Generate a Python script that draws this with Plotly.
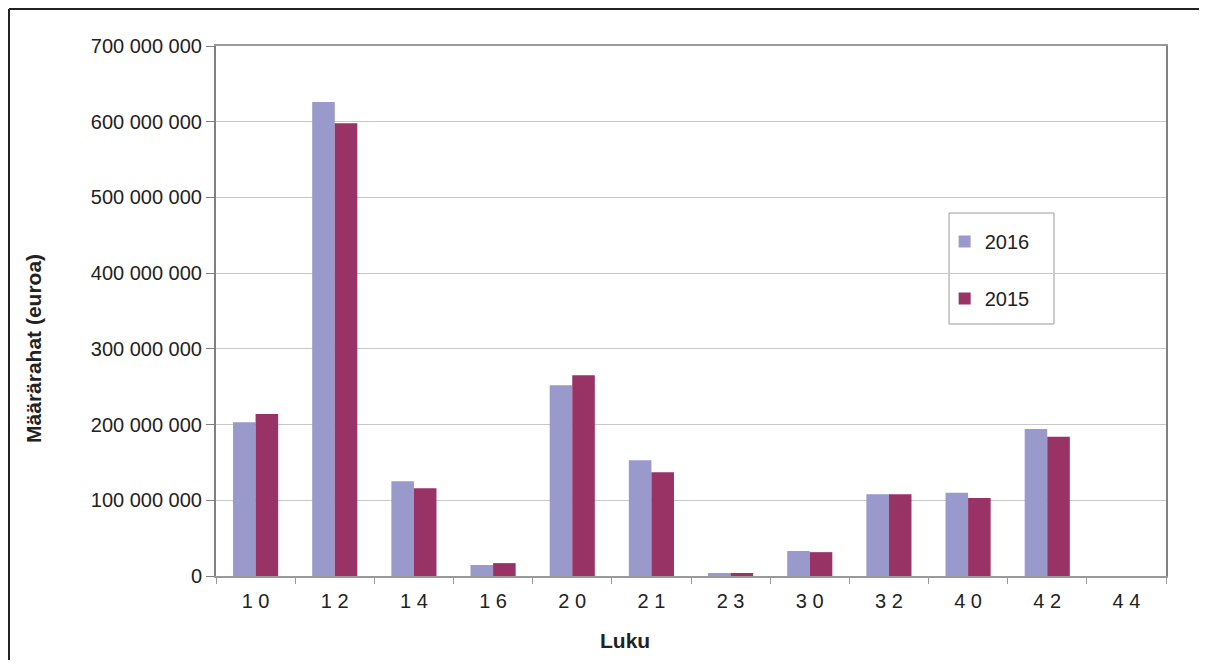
import plotly.graph_objects as go

categories = ["1 0", "1 2", "1 4", "1 6", "2 0", "2 1", "2 3", "3 0", "3 2", "4 0", "4 2", "4 4"]
values_2016 = [203e6, 626e6, 125e6, 14.5e6, 252e6, 153e6, 4e6, 33e6, 108e6, 110e6, 194e6, 0]
values_2015 = [214e6, 598e6, 116e6, 17e6, 265e6, 137e6, 4e6, 31.5e6, 108e6, 103e6, 184e6, 0]
y_ticks = [0, 100e6, 200e6, 300e6, 400e6, 500e6, 600e6, 700e6]
y_tick_labels = ["0", "100 000 000", "200 000 000", "300 000 000", "400 000 000",
                 "500 000 000", "600 000 000", "700 000 000"]

FONT = "Liberation Sans, Arial, sans-serif"

fig = go.Figure()
fig.add_trace(go.Bar(x=categories, y=values_2016, name="2016", legendgroup="a",
                     marker=dict(color="#9999cc", line=dict(width=0))))
fig.add_trace(go.Bar(x=categories, y=values_2015, name="2015", legendgroup="b",
                     marker=dict(color="#993366", line=dict(width=0))))

fig.update_layout(
    width=1191, height=652,
    margin=dict(l=208, r=33, t=38, b=84),
    paper_bgcolor="white", plot_bgcolor="white",
    barmode="group", bargap=0.43, bargroupgap=0,
    font=dict(family=FONT, size=20, color="#222222"),
    showlegend=True,
    legend=dict(x=0.767, y=0.668, xanchor="left", yanchor="top",
                bgcolor="rgba(0,0,0,0)", borderwidth=0,
                tracegroupgap=28, font=dict(size=20, family=FONT)),
    xaxis=dict(
        showline=True, linecolor="#999999", linewidth=1.5, mirror=True,
        ticks="outside", tickson="boundaries", ticklen=6, tickcolor="#999999",
        ticklabelstandoff=6,
        tickfont=dict(size=20, family=FONT),
    ),
    yaxis=dict(
        range=[0, 700e6], tickvals=y_ticks, ticktext=y_tick_labels,
        showline=True, linecolor="#808080", linewidth=2, mirror=True,
        ticks="outside", ticklen=8, tickcolor="#808080",
        showgrid=True, gridcolor="#c8c8c8", gridwidth=1,
        zeroline=False, tickfont=dict(size=20, family=FONT),
    ),
    annotations=[
        dict(text="<b>Määrärahat (euroa)</b>", xref="paper", yref="paper",
             x=-0.1916, y=0.4302, xanchor="center", yanchor="middle",
             textangle=-90, showarrow=False,
             font=dict(size=21, family=FONT, color="#222222")),
        dict(text="<b>Luku</b>", xref="paper", yref="paper",
             x=0.4305, y=-0.1208, xanchor="center", yanchor="middle",
             showarrow=False,
             font=dict(size=21, family=FONT, color="#222222")),
    ],
    shapes=[
        dict(type="line", xref="paper", yref="paper",
             x0=-0.2179, x1=1.2, y0=1.0698, y1=1.0698,
             line=dict(color="#222222", width=2), layer="above"),
        dict(type="line", xref="paper", yref="paper",
             x0=-0.2179, x1=-0.2179, y0=1.0698, y1=-0.3,
             line=dict(color="#222222", width=2), layer="above"),
        dict(type="rect", xref="paper", yref="paper",
             x0=0.7716, x1=0.8821, y0=0.4755, y1=0.6849,
             line=dict(color="#999999", width=1), fillcolor="white", layer="below"),
    ],
)

fig.write_html("out.html")
